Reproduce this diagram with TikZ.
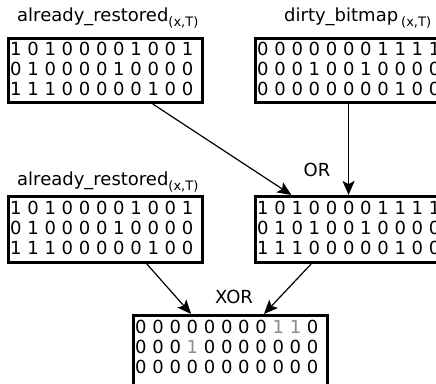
\documentclass[tikz,border=0pt]{standalone}
\usepackage{fontspec}
\setmainfont{DejaVu Sans}
\usetikzlibrary{arrows.meta,calc}
\tikzset{
  bitbox/.style={draw=black, line width=3pt, minimum width=194pt, minimum height=64pt, inner sep=0pt, anchor=north west},
  bitrow/.style={inner sep=0pt, anchor=west, font=\fontsize{18}{18}\selectfont},
  lbl/.style={inner sep=0pt, font=\fontsize{18}{18}\selectfont},
  conn/.style={line width=1.2pt, -{Stealth[length=14pt,width=12pt,inset=3pt]}}
}
\newcommand{\gd}[1]{\textcolor{black!45}{#1}}
\newcommand{\sbx}[1]{\raisebox{-5pt}{\fontsize{13}{13}\selectfont #1}}
\begin{document}
\begin{tikzpicture}[x=1pt,y=-1pt]
\useasboundingbox (0,0) rectangle (436,383);
\clip (0,0) rectangle (436,383);
% top-left
\node[lbl, anchor=base west] (l1) at (17,21) {already\_restored\sbx{(x,T)}};
\node[bitbox] (tl) at (7,37) {};
\node[bitrow] (tl1) at (10,49) {1 0 1 0 0 0 0 1 0 0 1};
\node[bitrow] (tl2) at (10,69) {0 1 0 0 0 0 1 0 0 0 0};
\node[bitrow] (tl3) at (10,89) {1 1 1 0 0 0 0 0 1 0 0};
% top-right
\node[lbl, anchor=base west] (l2) at (284,21) {dirty\_bitmap\,\sbx{(x,T)}};
\node[bitbox] (tr) at (254,37) {};
\node[bitrow] (tr1) at (257,49) {0 0 0 0 0 0 0 1 1 1 1};
\node[bitrow] (tr2) at (257,69) {0 0 0 1 0 0 1 0 0 0 0};
\node[bitrow] (tr3) at (257,89) {0 0 0 0 0 0 0 0 1 0 0};
% middle-left
\node[lbl, anchor=base west] (l3) at (17,185) {already\_restored\sbx{(x,T)}};
\node[bitbox, minimum height=66pt] (ml) at (7,195) {};
\node[bitrow] (ml1) at (10,208) {1 0 1 0 0 0 0 1 0 0 1};
\node[bitrow] (ml2) at (10,228) {0 1 0 0 0 0 1 0 0 0 0};
\node[bitrow] (ml3) at (10,248) {1 1 1 0 0 0 0 0 1 0 0};
% middle-right (OR)
\node[lbl] (or) at (317,170) {OR};
\node[bitbox, minimum height=66pt] (mr) at (254,195) {};
\node[bitrow] (mr1) at (257,208) {1 0 1 0 0 0 0 1 1 1 1};
\node[bitrow] (mr2) at (257,228) {0 1 0 1 0 0 1 0 0 0 0};
\node[bitrow] (mr3) at (257,248) {1 1 1 0 0 0 0 0 1 0 0};
% bottom (XOR)
\node[lbl] (xor) at (234,297) {XOR};
\node[bitbox, minimum height=80pt] (bt) at (132,314) {};
\node[bitrow] (bt1) at (135,327) {0 0 0 0 0 0 0 0 \gd{1} \gd{1} 0};
\node[bitrow] (bt2) at (135,347) {0 0 0 \gd{1} 0 0 0 0 0 0 0};
\node[bitrow] (bt3) at (135,367) {0 0 0 0 0 0 0 0 0 0 0};
% connectors
\coordinate (a1s) at ($(tl.south west)!0.74!(tl.south east)$);
\coordinate (a1e) at ($(mr.north west)!0.19!(mr.north east)$);
\coordinate (a2s) at ($(tr.south west)!0.48!(tr.south east)$);
\coordinate (a2e) at ($(mr.north west)!0.48!(mr.north east)$);
\coordinate (a3s) at ($(ml.south west)!0.71!(ml.south east)$);
\coordinate (a3e) at ($(bt.north west)!0.30!(bt.north east)$);
\coordinate (a4s) at ($(mr.south west)!0.29!(mr.south east)$);
\coordinate (a4e) at ($(bt.north west)!0.67!(bt.north east)$);
\draw[conn] (a1s) -- (a1e);
\draw[conn] (a2s) -- (a2e);
\draw[conn] (a3s) -- (a3e);
\draw[conn] (a4s) -- (a4e);
\end{tikzpicture}
\end{document}
